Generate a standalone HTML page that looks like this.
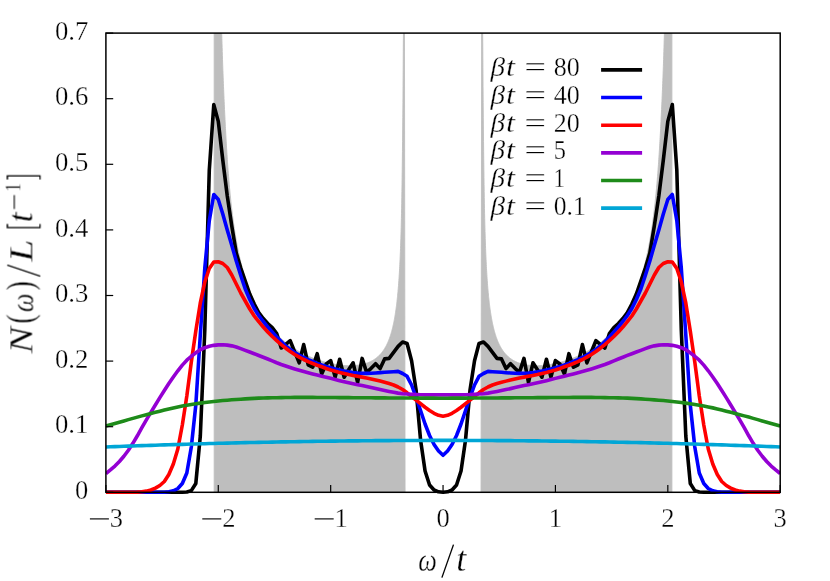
<!DOCTYPE html>
<html><head><meta charset="utf-8"><title>chart</title>
<style>
html,body{margin:0;padding:0;background:#fff;}
body{width:830px;height:581px;overflow:hidden;font-family:"Liberation Serif",serif;}
svg{display:block;}
</style></head><body>
<svg width="830" height="581" viewBox="0 0 830 581">
<rect x="0" y="0" width="830" height="581" fill="#ffffff"/>
<clipPath id="cp"><rect x="105.90" y="33.10" width="674.30" height="461.20"/></clipPath>
<g clip-path="url(#cp)">
<polygon points="405.06,492.30 404.46,33.10 404.34,33.10 404.21,33.10 404.08,33.10 403.96,33.10 403.83,33.10 403.70,33.10 403.57,33.10 403.45,33.10 403.32,45.99 403.19,67.83 403.06,86.56 402.94,102.86 402.81,117.21 402.68,129.95 402.56,141.37 402.45,151.67 402.34,161.03 402.23,169.57 402.13,177.41 402.03,184.64 401.92,191.32 401.82,197.53 401.72,203.31 401.61,208.72 401.51,213.78 401.40,218.54 401.30,223.01 401.19,227.24 401.08,231.23 400.97,235.01 400.86,238.60 400.75,242.01 400.63,245.26 400.52,248.35 400.41,251.31 400.29,254.13 400.18,256.83 400.06,259.41 399.94,261.89 399.82,264.27 399.71,266.55 399.59,268.75 399.47,270.87 399.35,272.90 399.23,274.87 399.11,276.76 398.99,278.59 398.87,280.36 398.75,282.06 398.62,283.72 398.50,285.31 398.38,286.86 398.26,288.36 398.13,289.82 398.01,291.23 397.89,292.60 397.76,293.93 397.64,295.22 397.51,296.48 397.39,297.70 397.27,298.89 397.14,300.05 397.02,301.17 396.89,302.27 396.77,303.33 396.64,304.38 396.52,305.39 396.39,306.38 396.26,307.35 396.14,308.29 396.01,309.21 395.89,310.11 395.76,310.98 395.64,311.84 395.51,312.68 395.38,313.50 395.26,314.30 395.13,315.08 395.00,315.85 394.88,316.60 394.75,317.34 394.62,318.05 394.50,318.76 394.37,319.45 394.24,320.12 394.12,320.79 393.99,321.43 393.86,322.07 393.74,322.69 393.61,323.30 393.48,323.90 393.36,324.49 393.23,325.07 393.10,325.64 392.97,326.19 392.85,326.74 392.72,327.27 392.59,327.80 392.47,328.32 392.34,328.83 392.21,329.32 392.08,329.81 391.96,330.30 391.83,330.77 391.70,331.24 391.58,331.69 391.45,332.14 391.32,332.58 391.19,333.02 391.07,333.45 390.94,333.87 390.81,334.28 390.68,334.69 390.56,335.09 390.43,335.49 390.30,335.87 390.18,336.26 390.05,336.63 389.92,337.00 389.79,337.37 389.67,337.73 389.54,338.08 389.41,338.43 389.28,338.77 389.16,339.11 389.03,339.45 388.90,339.77 388.78,340.10 388.65,340.42 388.52,340.73 388.39,341.04 388.27,341.35 388.14,341.65 388.01,341.95 387.88,342.24 387.76,342.53 387.63,342.81 387.50,343.09 387.38,343.37 387.25,343.64 387.12,343.91 386.99,344.18 386.87,344.44 386.74,344.70 386.61,344.95 386.49,345.21 386.36,345.46 386.23,345.70 386.10,345.94 385.98,346.18 385.85,346.42 385.72,346.65 385.59,346.88 385.47,347.11 385.34,347.33 385.21,347.55 385.09,347.77 384.96,347.99 384.83,348.20 384.70,348.41 384.58,348.62 384.45,348.82 384.32,349.03 384.19,349.23 384.07,349.42 383.94,349.62 383.81,349.81 383.69,350.00 383.56,350.19 383.43,350.38 383.30,350.56 383.18,350.74 383.05,350.92 382.92,351.10 382.79,351.27 382.67,351.45 382.54,351.62 382.41,351.79 382.29,351.96 382.16,352.12 382.03,352.28 381.90,352.45 381.78,352.61 381.65,352.76 381.52,352.92 381.39,353.07 381.27,353.23 381.14,353.38 381.01,353.53 380.89,353.67 380.76,353.82 380.63,353.96 380.50,354.10 380.38,354.25 380.25,354.39 380.12,354.52 380.00,354.66 379.87,354.79 379.74,354.93 379.61,355.06 379.49,355.19 379.36,355.32 379.23,355.44 379.10,355.57 378.98,355.70 378.85,355.82 378.72,355.94 378.60,356.06 378.47,356.18 378.34,356.30 378.21,356.42 378.09,356.53 377.96,356.65 377.83,356.76 377.70,356.87 377.58,356.98 377.45,357.09 377.32,357.20 377.20,357.31 377.07,357.41 376.94,357.52 376.81,357.62 376.69,357.72 376.56,357.82 376.43,357.92 376.30,358.02 376.18,358.12 376.05,358.22 375.92,358.32 375.80,358.41 375.67,358.51 375.54,358.60 375.41,358.69 375.29,358.78 375.16,358.87 375.03,358.96 374.90,359.05 374.78,359.14 374.65,359.22 374.52,359.31 374.40,359.39 374.27,359.48 374.14,359.56 374.01,359.64 373.89,359.72 373.76,359.81 373.63,359.88 373.51,359.96 373.38,360.04 373.25,360.12 373.12,360.19 373.00,360.27 372.87,360.35 372.74,360.42 372.61,360.49 372.49,360.56 372.36,360.64 372.23,360.71 372.11,360.78 371.98,360.85 371.85,360.92 371.72,360.98 371.60,361.05 371.47,361.12 371.34,361.18 371.21,361.25 371.09,361.31 370.96,361.38 370.83,361.44 370.71,361.50 370.58,361.56 370.45,361.62 370.32,361.68 370.20,361.74 370.07,361.80 369.94,361.86 369.81,361.92 369.69,361.98 369.56,362.03 369.43,362.09 369.31,362.14 369.18,362.20 369.05,362.25 368.92,362.31 368.80,362.36 368.67,362.41 368.54,362.46 368.41,362.52 368.29,362.57 368.16,362.62 368.03,362.67 367.91,362.72 367.78,362.76 367.65,362.81 367.52,362.86 367.40,362.91 367.27,362.95 367.14,363.00 367.02,363.04 366.89,363.09 366.76,363.13 366.63,363.18 366.51,363.22 366.38,363.26 366.25,363.31 366.12,363.35 366.00,363.39 365.87,363.43 365.74,363.47 365.62,363.51 365.49,363.55 365.36,363.59 365.23,363.63 365.11,363.67 364.98,363.70 364.85,363.74 364.72,363.78 364.60,363.81 364.47,363.85 364.34,363.88 364.22,363.92 364.09,363.95 363.96,363.99 363.83,364.02 363.71,364.06 363.58,364.09 363.45,364.12 363.32,364.15 363.20,364.18 363.07,364.22 362.94,364.25 362.82,364.28 362.69,364.31 362.56,364.34 362.43,364.37 362.31,364.39 362.18,364.42 362.05,364.45 361.92,364.48 361.80,364.51 361.67,364.53 361.54,364.56 361.42,364.59 361.29,364.61 361.16,364.64 361.03,364.66 360.91,364.69 360.78,364.71 360.65,364.73 360.53,364.76 360.40,364.78 360.27,364.80 360.14,364.83 360.02,364.85 359.89,364.87 359.76,364.89 359.63,364.91 359.51,364.94 359.38,364.96 359.25,364.98 359.13,365.00 359.00,365.02 358.87,365.03 358.74,365.05 358.62,365.07 358.49,365.09 358.36,365.11 358.23,365.13 358.11,365.14 357.98,365.16 357.85,365.18 357.73,365.19 357.60,365.21 357.47,365.23 357.34,365.24 357.22,365.26 357.09,365.27 356.96,365.29 356.83,365.30 356.71,365.31 356.58,365.33 356.45,365.34 356.33,365.35 356.20,365.37 356.07,365.38 355.94,365.39 355.82,365.40 355.69,365.42 355.56,365.43 355.43,365.44 355.31,365.45 355.18,365.46 355.05,365.47 354.93,365.48 354.80,365.49 354.67,365.50 354.54,365.51 354.42,365.52 354.29,365.53 354.16,365.53 354.04,365.54 353.91,365.55 353.78,365.56 353.65,365.57 353.53,365.57 353.40,365.58 353.27,365.59 353.14,365.59 353.02,365.60 352.89,365.60 352.76,365.61 352.64,365.62 352.51,365.62 352.38,365.63 352.25,365.63 352.13,365.63 352.00,365.64 351.87,365.64 351.74,365.65 351.62,365.65 351.49,365.65 351.36,365.66 351.24,365.66 351.11,365.66 350.98,365.66 350.85,365.67 350.73,365.67 350.60,365.67 350.47,365.67 350.34,365.67 350.22,365.67 350.09,365.67 349.96,365.67 349.84,365.67 349.71,365.67 349.58,365.67 349.45,365.67 349.33,365.67 349.20,365.67 349.07,365.67 348.94,365.67 348.82,365.67 348.69,365.66 348.56,365.66 348.44,365.66 348.31,365.66 348.18,365.66 348.05,365.65 347.93,365.65 347.80,365.65 347.67,365.64 347.54,365.64 347.42,365.63 347.29,365.63 347.16,365.63 347.04,365.62 346.91,365.62 346.78,365.61 346.65,365.61 346.53,365.60 346.40,365.60 346.27,365.59 346.15,365.58 346.02,365.58 345.89,365.57 345.76,365.56 345.64,365.56 345.51,365.55 345.38,365.54 345.25,365.54 345.13,365.53 345.00,365.52 344.87,365.51 344.75,365.50 344.62,365.50 344.49,365.49 344.36,365.48 344.24,365.47 344.11,365.46 343.98,365.45 343.85,365.44 343.73,365.43 343.60,365.42 343.47,365.41 343.35,365.40 343.22,365.39 343.09,365.38 342.96,365.37 342.84,365.36 342.71,365.35 342.58,365.33 342.45,365.32 342.33,365.31 342.20,365.30 342.07,365.29 341.95,365.27 341.82,365.26 341.69,365.25 341.56,365.24 341.44,365.22 341.31,365.21 341.18,365.20 341.05,365.18 340.93,365.17 340.80,365.15 340.67,365.14 340.55,365.13 340.42,365.11 340.29,365.10 340.16,365.08 340.04,365.07 339.91,365.05 339.78,365.04 339.66,365.02 339.53,365.00 339.40,364.99 339.27,364.97 339.15,364.96 339.02,364.94 338.89,364.92 338.76,364.91 338.64,364.89 338.51,364.87 338.38,364.85 338.26,364.84 338.13,364.82 338.00,364.80 337.87,364.78 337.75,364.76 337.62,364.75 337.49,364.73 337.36,364.71 337.24,364.69 337.11,364.67 336.98,364.65 336.86,364.63 336.73,364.61 336.60,364.59 336.47,364.57 336.35,364.55 336.22,364.53 336.09,364.51 335.96,364.49 335.84,364.47 335.71,364.45 335.58,364.43 335.46,364.41 335.33,364.39 335.20,364.36 335.07,364.34 334.95,364.32 334.82,364.30 334.69,364.28 334.56,364.25 334.44,364.23 334.31,364.21 334.18,364.18 334.06,364.16 333.93,364.14 333.80,364.12 333.67,364.09 333.55,364.07 333.42,364.04 333.29,364.02 333.17,364.00 333.04,363.97 332.91,363.95 332.78,363.92 332.66,363.90 332.53,363.87 332.40,363.85 332.27,363.82 332.15,363.80 332.02,363.77 331.89,363.74 331.77,363.72 331.64,363.69 331.51,363.67 331.38,363.64 331.26,363.61 331.13,363.59 331.00,363.56 330.87,363.53 330.75,363.50 330.62,363.48 330.49,363.45 330.37,363.42 330.24,363.39 330.11,363.36 329.98,363.34 329.86,363.31 329.73,363.28 329.60,363.25 329.47,363.22 329.35,363.19 329.22,363.16 329.09,363.13 328.97,363.10 328.84,363.07 328.71,363.04 328.58,363.01 328.46,362.98 328.33,362.95 328.20,362.92 328.07,362.89 327.95,362.86 327.82,362.83 327.69,362.80 327.57,362.77 327.44,362.74 327.31,362.70 327.18,362.67 327.06,362.64 326.93,362.61 326.80,362.58 326.68,362.54 326.55,362.51 326.42,362.48 326.29,362.45 326.17,362.41 326.04,362.38 325.91,362.35 325.78,362.31 325.66,362.28 325.53,362.24 325.40,362.21 325.28,362.18 325.15,362.14 325.02,362.11 324.89,362.07 324.77,362.04 324.64,362.00 324.51,361.97 324.38,361.93 324.26,361.90 324.13,361.86 324.00,361.82 323.88,361.79 323.75,361.75 323.62,361.72 323.49,361.68 323.37,361.64 323.24,361.61 323.11,361.57 322.98,361.53 322.86,361.49 322.73,361.46 322.60,361.42 322.48,361.38 322.35,361.34 322.22,361.31 322.09,361.27 321.97,361.23 321.84,361.19 321.71,361.15 321.58,361.11 321.46,361.07 321.33,361.03 321.20,361.00 321.08,360.96 320.95,360.92 320.82,360.88 320.69,360.84 320.57,360.80 320.44,360.76 320.31,360.71 320.19,360.67 320.06,360.63 319.93,360.59 319.80,360.55 319.68,360.51 319.55,360.47 319.42,360.43 319.29,360.38 319.17,360.34 319.04,360.30 318.91,360.26 318.79,360.22 318.66,360.17 318.53,360.13 318.40,360.09 318.28,360.04 318.15,360.00 318.02,359.96 317.89,359.91 317.77,359.87 317.64,359.83 317.51,359.78 317.39,359.74 317.26,359.69 317.13,359.65 317.00,359.60 316.88,359.56 316.75,359.51 316.62,359.47 316.49,359.42 316.37,359.38 316.24,359.33 316.11,359.28 315.99,359.24 315.86,359.19 315.73,359.14 315.60,359.10 315.48,359.05 315.35,359.00 315.22,358.96 315.09,358.91 314.97,358.86 314.84,358.81 314.71,358.77 314.59,358.72 314.46,358.67 314.33,358.62 314.20,358.57 314.08,358.52 313.95,358.47 313.82,358.43 313.70,358.38 313.57,358.33 313.44,358.28 313.31,358.23 313.19,358.18 313.06,358.13 312.93,358.08 312.80,358.03 312.68,357.98 312.55,357.92 312.42,357.87 312.30,357.82 312.17,357.77 312.04,357.72 311.91,357.67 311.79,357.62 311.66,357.56 311.53,357.51 311.40,357.46 311.28,357.41 311.15,357.35 311.02,357.30 310.90,357.25 310.77,357.19 310.64,357.14 310.51,357.09 310.39,357.03 310.26,356.98 310.13,356.92 310.00,356.87 309.88,356.81 309.75,356.76 309.62,356.70 309.50,356.65 309.37,356.59 309.24,356.54 309.11,356.48 308.99,356.43 308.86,356.37 308.73,356.31 308.60,356.26 308.48,356.20 308.35,356.14 308.22,356.09 308.10,356.03 307.97,355.97 307.84,355.91 307.71,355.86 307.59,355.80 307.46,355.74 307.33,355.68 307.21,355.62 307.08,355.56 306.95,355.50 306.82,355.44 306.70,355.39 306.57,355.33 306.44,355.27 306.31,355.21 306.19,355.15 306.06,355.08 305.93,355.02 305.81,354.96 305.68,354.90 305.55,354.84 305.42,354.78 305.30,354.72 305.17,354.66 305.04,354.59 304.91,354.53 304.79,354.47 304.66,354.41 304.53,354.34 304.41,354.28 304.28,354.22 304.15,354.15 304.02,354.09 303.90,354.03 303.77,353.96 303.64,353.90 303.51,353.83 303.39,353.77 303.26,353.70 303.13,353.64 303.01,353.57 302.88,353.51 302.75,353.44 302.62,353.38 302.50,353.31 302.37,353.24 302.24,353.18 302.11,353.11 301.99,353.04 301.86,352.98 301.73,352.91 301.61,352.84 301.48,352.77 301.35,352.70 301.22,352.64 301.10,352.57 300.97,352.50 300.84,352.43 300.72,352.36 300.59,352.29 300.46,352.22 300.33,352.15 300.21,352.08 300.08,352.01 299.95,351.94 299.82,351.87 299.70,351.80 299.57,351.73 299.44,351.66 299.32,351.59 299.19,351.51 299.06,351.44 298.93,351.37 298.81,351.30 298.68,351.22 298.55,351.15 298.42,351.08 298.30,351.00 298.17,350.93 298.04,350.86 297.92,350.78 297.79,350.71 297.66,350.63 297.53,350.56 297.41,350.48 297.28,350.41 297.15,350.33 297.02,350.26 296.90,350.18 296.77,350.10 296.64,350.03 296.52,349.95 296.39,349.87 296.26,349.79 296.13,349.72 296.01,349.64 295.88,349.56 295.75,349.48 295.62,349.40 295.50,349.33 295.37,349.25 295.24,349.17 295.12,349.09 294.99,349.01 294.86,348.93 294.73,348.85 294.61,348.77 294.48,348.69 294.35,348.60 294.22,348.52 294.10,348.44 293.97,348.36 293.84,348.28 293.72,348.20 293.59,348.11 293.46,348.03 293.33,347.95 293.21,347.86 293.08,347.78 292.95,347.70 292.83,347.61 292.70,347.53 292.57,347.44 292.44,347.36 292.32,347.27 292.19,347.19 292.06,347.10 291.93,347.01 291.81,346.93 291.68,346.84 291.55,346.75 291.43,346.67 291.30,346.58 291.17,346.49 291.04,346.40 290.92,346.31 290.79,346.23 290.66,346.14 290.53,346.05 290.41,345.96 290.28,345.87 290.15,345.78 290.03,345.69 289.90,345.60 289.77,345.51 289.64,345.41 289.52,345.32 289.39,345.23 289.26,345.14 289.13,345.05 289.01,344.95 288.88,344.86 288.75,344.77 288.63,344.67 288.50,344.58 288.37,344.49 288.24,344.39 288.12,344.30 287.99,344.20 287.86,344.10 287.73,344.01 287.61,343.91 287.48,343.82 287.35,343.72 287.23,343.62 287.10,343.53 286.97,343.43 286.84,343.33 286.72,343.23 286.59,343.13 286.46,343.03 286.34,342.93 286.21,342.83 286.08,342.73 285.95,342.63 285.83,342.53 285.70,342.43 285.57,342.33 285.44,342.23 285.32,342.13 285.19,342.03 285.06,341.92 284.94,341.82 284.81,341.72 284.68,341.61 284.55,341.51 284.43,341.40 284.30,341.30 284.17,341.19 284.04,341.09 283.92,340.98 283.79,340.88 283.66,340.77 283.54,340.66 283.41,340.56 283.28,340.45 283.15,340.34 283.03,340.23 282.90,340.12 282.77,340.02 282.64,339.91 282.52,339.80 282.39,339.69 282.26,339.58 282.14,339.46 282.01,339.35 281.88,339.24 281.75,339.13 281.63,339.02 281.50,338.90 281.37,338.79 281.24,338.68 281.12,338.56 280.99,338.45 280.86,338.34 280.74,338.22 280.61,338.10 280.48,337.99 280.35,337.87 280.23,337.76 280.10,337.64 279.97,337.52 279.85,337.40 279.72,337.29 279.59,337.17 279.46,337.05 279.34,336.93 279.21,336.81 279.08,336.69 278.95,336.57 278.83,336.45 278.70,336.32 278.57,336.20 278.45,336.08 278.32,335.96 278.19,335.83 278.06,335.71 277.94,335.59 277.81,335.46 277.68,335.34 277.55,335.21 277.43,335.09 277.30,334.96 277.17,334.83 277.05,334.71 276.92,334.58 276.79,334.45 276.66,334.32 276.54,334.19 276.41,334.06 276.28,333.93 276.15,333.80 276.03,333.67 275.90,333.54 275.77,333.41 275.65,333.28 275.52,333.14 275.39,333.01 275.26,332.88 275.14,332.74 275.01,332.61 274.88,332.47 274.75,332.34 274.63,332.20 274.50,332.06 274.37,331.93 274.25,331.79 274.12,331.65 273.99,331.51 273.86,331.37 273.74,331.23 273.61,331.09 273.48,330.95 273.36,330.81 273.23,330.67 273.10,330.53 272.97,330.38 272.85,330.24 272.72,330.10 272.59,329.95 272.46,329.81 272.34,329.66 272.21,329.52 272.08,329.37 271.96,329.22 271.83,329.08 271.70,328.93 271.57,328.78 271.45,328.63 271.32,328.48 271.19,328.33 271.06,328.18 270.94,328.03 270.81,327.87 270.68,327.72 270.56,327.57 270.43,327.41 270.30,327.26 270.17,327.10 270.05,326.95 269.92,326.79 269.79,326.64 269.66,326.48 269.54,326.32 269.41,326.16 269.28,326.00 269.16,325.84 269.03,325.68 268.90,325.52 268.77,325.36 268.65,325.20 268.52,325.03 268.39,324.87 268.26,324.70 268.14,324.54 268.01,324.37 267.88,324.21 267.76,324.04 267.63,323.87 267.50,323.70 267.37,323.54 267.25,323.37 267.12,323.20 266.99,323.02 266.87,322.85 266.74,322.68 266.61,322.51 266.48,322.33 266.36,322.16 266.23,321.98 266.10,321.81 265.97,321.63 265.85,321.45 265.72,321.28 265.59,321.10 265.47,320.92 265.34,320.74 265.21,320.56 265.08,320.37 264.96,320.19 264.83,320.01 264.70,319.82 264.57,319.64 264.45,319.45 264.32,319.27 264.19,319.08 264.07,318.89 263.94,318.70 263.81,318.51 263.68,318.32 263.56,318.13 263.43,317.94 263.30,317.75 263.17,317.55 263.05,317.36 262.92,317.17 262.79,316.97 262.67,316.77 262.54,316.57 262.41,316.38 262.28,316.18 262.16,315.98 262.03,315.77 261.90,315.57 261.77,315.37 261.65,315.17 261.52,314.96 261.39,314.76 261.27,314.55 261.14,314.34 261.01,314.13 260.88,313.92 260.76,313.71 260.63,313.50 260.50,313.29 260.38,313.08 260.25,312.86 260.12,312.65 259.99,312.43 259.87,312.22 259.74,312.00 259.61,311.78 259.48,311.56 259.36,311.34 259.23,311.12 259.10,310.89 258.98,310.67 258.85,310.44 258.72,310.22 258.59,309.99 258.47,309.76 258.34,309.53 258.21,309.30 258.08,309.07 257.96,308.84 257.83,308.61 257.70,308.37 257.58,308.14 257.45,307.90 257.32,307.66 257.19,307.42 257.07,307.18 256.94,306.94 256.81,306.70 256.68,306.46 256.56,306.21 256.43,305.96 256.30,305.72 256.18,305.47 256.05,305.22 255.92,304.97 255.79,304.72 255.67,304.46 255.54,304.21 255.41,303.95 255.28,303.70 255.16,303.44 255.03,303.18 254.90,302.92 254.78,302.66 254.65,302.39 254.52,302.13 254.39,301.86 254.27,301.59 254.14,301.32 254.01,301.05 253.89,300.78 253.76,300.51 253.63,300.23 253.50,299.96 253.38,299.68 253.25,299.40 253.12,299.12 252.99,298.84 252.87,298.56 252.74,298.27 252.61,297.99 252.49,297.70 252.36,297.41 252.23,297.12 252.10,296.83 251.98,296.53 251.85,296.24 251.72,295.94 251.59,295.64 251.47,295.34 251.34,295.04 251.21,294.74 251.09,294.43 250.96,294.13 250.83,293.82 250.70,293.51 250.58,293.20 250.45,292.88 250.32,292.57 250.20,292.25 250.07,291.93 249.94,291.61 249.81,291.29 249.69,290.96 249.56,290.64 249.43,290.31 249.31,289.98 249.18,289.65 249.05,289.31 248.93,288.98 248.80,288.64 248.67,288.30 248.55,287.96 248.42,287.62 248.29,287.27 248.17,286.92 248.04,286.57 247.91,286.22 247.79,285.87 247.66,285.51 247.53,285.16 247.41,284.80 247.28,284.43 247.15,284.07 247.03,283.70 246.90,283.33 246.77,282.96 246.65,282.59 246.52,282.21 246.39,281.84 246.27,281.46 246.14,281.07 246.01,280.69 245.89,280.30 245.76,279.91 245.64,279.52 245.51,279.12 245.38,278.72 245.26,278.32 245.13,277.92 245.01,277.52 244.88,277.11 244.75,276.70 244.63,276.29 244.50,275.87 244.38,275.45 244.25,275.03 244.12,274.61 244.00,274.18 243.87,273.75 243.75,273.32 243.62,272.88 243.50,272.44 243.37,272.00 243.24,271.56 243.12,271.11 242.99,270.66 242.87,270.20 242.74,269.75 242.62,269.29 242.49,268.82 242.37,268.36 242.24,267.89 242.12,267.41 241.99,266.94 241.87,266.46 241.74,265.97 241.62,265.49 241.49,265.00 241.37,264.50 241.24,264.01 241.12,263.50 240.99,263.00 240.87,262.49 240.74,261.98 240.62,261.46 240.49,260.94 240.37,260.42 240.25,259.89 240.12,259.36 240.00,258.82 239.87,258.28 239.75,257.74 239.62,257.19 239.50,256.63 239.38,256.08 239.25,255.52 239.13,254.95 239.00,254.38 238.88,253.80 238.76,253.22 238.63,252.64 238.51,252.05 238.39,251.46 238.26,250.86 238.14,250.25 238.02,249.64 237.89,249.03 237.77,248.41 237.65,247.79 237.52,247.16 237.40,246.52 237.28,245.88 237.15,245.24 237.03,244.58 236.91,243.93 236.79,243.26 236.66,242.60 236.54,241.92 236.42,241.24 236.30,240.55 236.18,239.86 236.05,239.16 235.93,238.46 235.81,237.75 235.69,237.03 235.57,236.30 235.44,235.57 235.32,234.83 235.20,234.09 235.08,233.33 234.96,232.57 234.84,231.81 234.72,231.03 234.60,230.25 234.48,229.46 234.35,228.66 234.23,227.86 234.11,227.05 233.99,226.22 233.87,225.39 233.75,224.56 233.63,223.71 233.51,222.85 233.39,221.99 233.27,221.12 233.15,220.24 233.03,219.34 232.91,218.44 232.79,217.53 232.68,216.61 232.56,215.68 232.44,214.74 232.32,213.79 232.20,212.83 232.08,211.86 231.96,210.88 231.84,209.88 231.73,208.88 231.61,207.86 231.49,206.83 231.37,205.79 231.25,204.74 231.14,203.67 231.02,202.59 230.90,201.50 230.79,200.40 230.67,199.28 230.55,198.15 230.43,197.01 230.32,195.85 230.20,194.67 230.09,193.48 229.97,192.28 229.85,191.06 229.74,189.83 229.62,188.57 229.50,187.31 229.39,186.02 229.27,184.72 229.16,183.40 229.04,182.06 228.93,180.71 228.81,179.33 228.70,177.94 228.58,176.52 228.47,175.09 228.35,173.63 228.24,172.16 228.12,170.66 228.01,169.14 227.90,167.59 227.78,166.03 227.67,164.44 227.55,162.82 227.44,161.18 227.32,159.51 227.21,157.82 227.10,156.10 226.98,154.35 226.87,152.58 226.75,150.77 226.64,148.93 226.53,147.06 226.41,145.16 226.30,143.23 226.18,141.26 226.07,139.26 225.95,137.22 225.84,135.15 225.72,133.03 225.60,130.88 225.49,128.69 225.37,126.45 225.25,124.17 225.13,121.85 225.02,119.48 224.90,117.06 224.78,114.60 224.66,112.08 224.53,109.51 224.41,106.88 224.29,104.20 224.16,101.46 224.03,98.66 223.91,95.80 223.78,92.87 223.65,89.87 223.53,86.81 223.40,83.67 223.27,80.45 223.14,77.15 223.02,73.77 222.89,70.31 222.76,66.75 222.63,63.11 222.51,59.36 222.38,55.51 222.25,51.56 222.13,47.49 222.00,43.30 221.87,38.99 221.74,34.55 221.62,33.10 221.49,33.10 221.36,33.10 221.24,33.10 221.11,33.10 220.98,33.10 220.85,33.10 220.73,33.10 220.60,33.10 220.47,33.10 220.34,33.10 220.22,33.10 220.09,33.10 219.96,33.10 219.84,33.10 219.71,33.10 219.58,33.10 219.45,33.10 219.33,33.10 219.20,33.10 219.07,33.10 218.94,33.10 218.82,33.10 218.69,33.10 218.56,33.10 218.44,33.10 218.31,33.10 218.18,33.10 218.05,33.10 217.93,33.10 217.80,33.10 217.67,33.10 217.54,33.10 217.42,33.10 217.29,33.10 217.16,33.10 217.04,33.10 216.91,33.10 216.78,33.10 216.65,33.10 216.53,33.10 216.40,33.10 216.27,33.10 216.14,33.10 216.02,33.10 215.89,33.10 215.76,33.10 215.64,33.10 215.51,33.10 214.18,33.10 214.18,492.30" fill="#bebebe" stroke="#bebebe" stroke-width="0.9" stroke-linejoin="round"/>
<polygon points="481.04,492.30 481.64,33.10 481.76,33.10 481.89,33.10 482.02,33.10 482.14,33.10 482.27,33.10 482.40,33.10 482.53,33.10 482.65,33.10 482.78,45.99 482.91,67.83 483.04,86.56 483.16,102.86 483.29,117.21 483.42,129.95 483.54,141.37 483.65,151.67 483.76,161.03 483.87,169.57 483.97,177.41 484.07,184.64 484.18,191.32 484.28,197.53 484.38,203.31 484.49,208.72 484.59,213.78 484.70,218.54 484.80,223.01 484.91,227.24 485.02,231.23 485.13,235.01 485.24,238.60 485.35,242.01 485.47,245.26 485.58,248.35 485.69,251.31 485.81,254.13 485.92,256.83 486.04,259.41 486.16,261.89 486.28,264.27 486.39,266.55 486.51,268.75 486.63,270.87 486.75,272.90 486.87,274.87 486.99,276.76 487.11,278.59 487.23,280.36 487.35,282.06 487.48,283.72 487.60,285.31 487.72,286.86 487.84,288.36 487.97,289.82 488.09,291.23 488.21,292.60 488.34,293.93 488.46,295.22 488.59,296.48 488.71,297.70 488.83,298.89 488.96,300.05 489.08,301.17 489.21,302.27 489.33,303.33 489.46,304.38 489.58,305.39 489.71,306.38 489.84,307.35 489.96,308.29 490.09,309.21 490.21,310.11 490.34,310.98 490.46,311.84 490.59,312.68 490.72,313.50 490.84,314.30 490.97,315.08 491.10,315.85 491.22,316.60 491.35,317.34 491.48,318.05 491.60,318.76 491.73,319.45 491.86,320.12 491.98,320.79 492.11,321.43 492.24,322.07 492.36,322.69 492.49,323.30 492.62,323.90 492.74,324.49 492.87,325.07 493.00,325.64 493.13,326.19 493.25,326.74 493.38,327.27 493.51,327.80 493.63,328.32 493.76,328.83 493.89,329.32 494.02,329.81 494.14,330.30 494.27,330.77 494.40,331.24 494.52,331.69 494.65,332.14 494.78,332.58 494.91,333.02 495.03,333.45 495.16,333.87 495.29,334.28 495.42,334.69 495.54,335.09 495.67,335.49 495.80,335.87 495.92,336.26 496.05,336.63 496.18,337.00 496.31,337.37 496.43,337.73 496.56,338.08 496.69,338.43 496.82,338.77 496.94,339.11 497.07,339.45 497.20,339.77 497.32,340.10 497.45,340.42 497.58,340.73 497.71,341.04 497.83,341.35 497.96,341.65 498.09,341.95 498.22,342.24 498.34,342.53 498.47,342.81 498.60,343.09 498.72,343.37 498.85,343.64 498.98,343.91 499.11,344.18 499.23,344.44 499.36,344.70 499.49,344.95 499.61,345.21 499.74,345.46 499.87,345.70 500.00,345.94 500.12,346.18 500.25,346.42 500.38,346.65 500.51,346.88 500.63,347.11 500.76,347.33 500.89,347.55 501.01,347.77 501.14,347.99 501.27,348.20 501.40,348.41 501.52,348.62 501.65,348.82 501.78,349.03 501.91,349.23 502.03,349.42 502.16,349.62 502.29,349.81 502.41,350.00 502.54,350.19 502.67,350.38 502.80,350.56 502.92,350.74 503.05,350.92 503.18,351.10 503.31,351.27 503.43,351.45 503.56,351.62 503.69,351.79 503.81,351.96 503.94,352.12 504.07,352.28 504.20,352.45 504.32,352.61 504.45,352.76 504.58,352.92 504.71,353.07 504.83,353.23 504.96,353.38 505.09,353.53 505.21,353.67 505.34,353.82 505.47,353.96 505.60,354.10 505.72,354.25 505.85,354.39 505.98,354.52 506.10,354.66 506.23,354.79 506.36,354.93 506.49,355.06 506.61,355.19 506.74,355.32 506.87,355.44 507.00,355.57 507.12,355.70 507.25,355.82 507.38,355.94 507.50,356.06 507.63,356.18 507.76,356.30 507.89,356.42 508.01,356.53 508.14,356.65 508.27,356.76 508.40,356.87 508.52,356.98 508.65,357.09 508.78,357.20 508.90,357.31 509.03,357.41 509.16,357.52 509.29,357.62 509.41,357.72 509.54,357.82 509.67,357.92 509.80,358.02 509.92,358.12 510.05,358.22 510.18,358.32 510.30,358.41 510.43,358.51 510.56,358.60 510.69,358.69 510.81,358.78 510.94,358.87 511.07,358.96 511.20,359.05 511.32,359.14 511.45,359.22 511.58,359.31 511.70,359.39 511.83,359.48 511.96,359.56 512.09,359.64 512.21,359.72 512.34,359.81 512.47,359.88 512.59,359.96 512.72,360.04 512.85,360.12 512.98,360.19 513.10,360.27 513.23,360.35 513.36,360.42 513.49,360.49 513.61,360.56 513.74,360.64 513.87,360.71 513.99,360.78 514.12,360.85 514.25,360.92 514.38,360.98 514.50,361.05 514.63,361.12 514.76,361.18 514.89,361.25 515.01,361.31 515.14,361.38 515.27,361.44 515.39,361.50 515.52,361.56 515.65,361.62 515.78,361.68 515.90,361.74 516.03,361.80 516.16,361.86 516.29,361.92 516.41,361.98 516.54,362.03 516.67,362.09 516.79,362.14 516.92,362.20 517.05,362.25 517.18,362.31 517.30,362.36 517.43,362.41 517.56,362.46 517.69,362.52 517.81,362.57 517.94,362.62 518.07,362.67 518.19,362.72 518.32,362.76 518.45,362.81 518.58,362.86 518.70,362.91 518.83,362.95 518.96,363.00 519.08,363.04 519.21,363.09 519.34,363.13 519.47,363.18 519.59,363.22 519.72,363.26 519.85,363.31 519.98,363.35 520.10,363.39 520.23,363.43 520.36,363.47 520.48,363.51 520.61,363.55 520.74,363.59 520.87,363.63 520.99,363.67 521.12,363.70 521.25,363.74 521.38,363.78 521.50,363.81 521.63,363.85 521.76,363.88 521.88,363.92 522.01,363.95 522.14,363.99 522.27,364.02 522.39,364.06 522.52,364.09 522.65,364.12 522.78,364.15 522.90,364.18 523.03,364.22 523.16,364.25 523.28,364.28 523.41,364.31 523.54,364.34 523.67,364.37 523.79,364.39 523.92,364.42 524.05,364.45 524.18,364.48 524.30,364.51 524.43,364.53 524.56,364.56 524.68,364.59 524.81,364.61 524.94,364.64 525.07,364.66 525.19,364.69 525.32,364.71 525.45,364.73 525.57,364.76 525.70,364.78 525.83,364.80 525.96,364.83 526.08,364.85 526.21,364.87 526.34,364.89 526.47,364.91 526.59,364.94 526.72,364.96 526.85,364.98 526.97,365.00 527.10,365.02 527.23,365.03 527.36,365.05 527.48,365.07 527.61,365.09 527.74,365.11 527.87,365.13 527.99,365.14 528.12,365.16 528.25,365.18 528.37,365.19 528.50,365.21 528.63,365.23 528.76,365.24 528.88,365.26 529.01,365.27 529.14,365.29 529.27,365.30 529.39,365.31 529.52,365.33 529.65,365.34 529.77,365.35 529.90,365.37 530.03,365.38 530.16,365.39 530.28,365.40 530.41,365.42 530.54,365.43 530.67,365.44 530.79,365.45 530.92,365.46 531.05,365.47 531.17,365.48 531.30,365.49 531.43,365.50 531.56,365.51 531.68,365.52 531.81,365.53 531.94,365.53 532.06,365.54 532.19,365.55 532.32,365.56 532.45,365.57 532.57,365.57 532.70,365.58 532.83,365.59 532.96,365.59 533.08,365.60 533.21,365.60 533.34,365.61 533.46,365.62 533.59,365.62 533.72,365.63 533.85,365.63 533.97,365.63 534.10,365.64 534.23,365.64 534.36,365.65 534.48,365.65 534.61,365.65 534.74,365.66 534.86,365.66 534.99,365.66 535.12,365.66 535.25,365.67 535.37,365.67 535.50,365.67 535.63,365.67 535.76,365.67 535.88,365.67 536.01,365.67 536.14,365.67 536.26,365.67 536.39,365.67 536.52,365.67 536.65,365.67 536.77,365.67 536.90,365.67 537.03,365.67 537.16,365.67 537.28,365.67 537.41,365.66 537.54,365.66 537.66,365.66 537.79,365.66 537.92,365.66 538.05,365.65 538.17,365.65 538.30,365.65 538.43,365.64 538.56,365.64 538.68,365.63 538.81,365.63 538.94,365.63 539.06,365.62 539.19,365.62 539.32,365.61 539.45,365.61 539.57,365.60 539.70,365.60 539.83,365.59 539.95,365.58 540.08,365.58 540.21,365.57 540.34,365.56 540.46,365.56 540.59,365.55 540.72,365.54 540.85,365.54 540.97,365.53 541.10,365.52 541.23,365.51 541.35,365.50 541.48,365.50 541.61,365.49 541.74,365.48 541.86,365.47 541.99,365.46 542.12,365.45 542.25,365.44 542.37,365.43 542.50,365.42 542.63,365.41 542.75,365.40 542.88,365.39 543.01,365.38 543.14,365.37 543.26,365.36 543.39,365.35 543.52,365.33 543.65,365.32 543.77,365.31 543.90,365.30 544.03,365.29 544.15,365.27 544.28,365.26 544.41,365.25 544.54,365.24 544.66,365.22 544.79,365.21 544.92,365.20 545.05,365.18 545.17,365.17 545.30,365.15 545.43,365.14 545.55,365.13 545.68,365.11 545.81,365.10 545.94,365.08 546.06,365.07 546.19,365.05 546.32,365.04 546.44,365.02 546.57,365.00 546.70,364.99 546.83,364.97 546.95,364.96 547.08,364.94 547.21,364.92 547.34,364.91 547.46,364.89 547.59,364.87 547.72,364.85 547.84,364.84 547.97,364.82 548.10,364.80 548.23,364.78 548.35,364.76 548.48,364.75 548.61,364.73 548.74,364.71 548.86,364.69 548.99,364.67 549.12,364.65 549.24,364.63 549.37,364.61 549.50,364.59 549.63,364.57 549.75,364.55 549.88,364.53 550.01,364.51 550.14,364.49 550.26,364.47 550.39,364.45 550.52,364.43 550.64,364.41 550.77,364.39 550.90,364.36 551.03,364.34 551.15,364.32 551.28,364.30 551.41,364.28 551.54,364.25 551.66,364.23 551.79,364.21 551.92,364.18 552.04,364.16 552.17,364.14 552.30,364.12 552.43,364.09 552.55,364.07 552.68,364.04 552.81,364.02 552.93,364.00 553.06,363.97 553.19,363.95 553.32,363.92 553.44,363.90 553.57,363.87 553.70,363.85 553.83,363.82 553.95,363.80 554.08,363.77 554.21,363.74 554.33,363.72 554.46,363.69 554.59,363.67 554.72,363.64 554.84,363.61 554.97,363.59 555.10,363.56 555.23,363.53 555.35,363.50 555.48,363.48 555.61,363.45 555.73,363.42 555.86,363.39 555.99,363.36 556.12,363.34 556.24,363.31 556.37,363.28 556.50,363.25 556.63,363.22 556.75,363.19 556.88,363.16 557.01,363.13 557.13,363.10 557.26,363.07 557.39,363.04 557.52,363.01 557.64,362.98 557.77,362.95 557.90,362.92 558.03,362.89 558.15,362.86 558.28,362.83 558.41,362.80 558.53,362.77 558.66,362.74 558.79,362.70 558.92,362.67 559.04,362.64 559.17,362.61 559.30,362.58 559.42,362.54 559.55,362.51 559.68,362.48 559.81,362.45 559.93,362.41 560.06,362.38 560.19,362.35 560.32,362.31 560.44,362.28 560.57,362.24 560.70,362.21 560.82,362.18 560.95,362.14 561.08,362.11 561.21,362.07 561.33,362.04 561.46,362.00 561.59,361.97 561.72,361.93 561.84,361.90 561.97,361.86 562.10,361.82 562.22,361.79 562.35,361.75 562.48,361.72 562.61,361.68 562.73,361.64 562.86,361.61 562.99,361.57 563.12,361.53 563.24,361.49 563.37,361.46 563.50,361.42 563.62,361.38 563.75,361.34 563.88,361.31 564.01,361.27 564.13,361.23 564.26,361.19 564.39,361.15 564.52,361.11 564.64,361.07 564.77,361.03 564.90,361.00 565.02,360.96 565.15,360.92 565.28,360.88 565.41,360.84 565.53,360.80 565.66,360.76 565.79,360.71 565.91,360.67 566.04,360.63 566.17,360.59 566.30,360.55 566.42,360.51 566.55,360.47 566.68,360.43 566.81,360.38 566.93,360.34 567.06,360.30 567.19,360.26 567.31,360.22 567.44,360.17 567.57,360.13 567.70,360.09 567.82,360.04 567.95,360.00 568.08,359.96 568.21,359.91 568.33,359.87 568.46,359.83 568.59,359.78 568.71,359.74 568.84,359.69 568.97,359.65 569.10,359.60 569.22,359.56 569.35,359.51 569.48,359.47 569.61,359.42 569.73,359.38 569.86,359.33 569.99,359.28 570.11,359.24 570.24,359.19 570.37,359.14 570.50,359.10 570.62,359.05 570.75,359.00 570.88,358.96 571.01,358.91 571.13,358.86 571.26,358.81 571.39,358.77 571.51,358.72 571.64,358.67 571.77,358.62 571.90,358.57 572.02,358.52 572.15,358.47 572.28,358.43 572.40,358.38 572.53,358.33 572.66,358.28 572.79,358.23 572.91,358.18 573.04,358.13 573.17,358.08 573.30,358.03 573.42,357.98 573.55,357.92 573.68,357.87 573.80,357.82 573.93,357.77 574.06,357.72 574.19,357.67 574.31,357.62 574.44,357.56 574.57,357.51 574.70,357.46 574.82,357.41 574.95,357.35 575.08,357.30 575.20,357.25 575.33,357.19 575.46,357.14 575.59,357.09 575.71,357.03 575.84,356.98 575.97,356.92 576.10,356.87 576.22,356.81 576.35,356.76 576.48,356.70 576.60,356.65 576.73,356.59 576.86,356.54 576.99,356.48 577.11,356.43 577.24,356.37 577.37,356.31 577.50,356.26 577.62,356.20 577.75,356.14 577.88,356.09 578.00,356.03 578.13,355.97 578.26,355.91 578.39,355.86 578.51,355.80 578.64,355.74 578.77,355.68 578.89,355.62 579.02,355.56 579.15,355.50 579.28,355.44 579.40,355.39 579.53,355.33 579.66,355.27 579.79,355.21 579.91,355.15 580.04,355.08 580.17,355.02 580.29,354.96 580.42,354.90 580.55,354.84 580.68,354.78 580.80,354.72 580.93,354.66 581.06,354.59 581.19,354.53 581.31,354.47 581.44,354.41 581.57,354.34 581.69,354.28 581.82,354.22 581.95,354.15 582.08,354.09 582.20,354.03 582.33,353.96 582.46,353.90 582.59,353.83 582.71,353.77 582.84,353.70 582.97,353.64 583.09,353.57 583.22,353.51 583.35,353.44 583.48,353.38 583.60,353.31 583.73,353.24 583.86,353.18 583.99,353.11 584.11,353.04 584.24,352.98 584.37,352.91 584.49,352.84 584.62,352.77 584.75,352.70 584.88,352.64 585.00,352.57 585.13,352.50 585.26,352.43 585.38,352.36 585.51,352.29 585.64,352.22 585.77,352.15 585.89,352.08 586.02,352.01 586.15,351.94 586.28,351.87 586.40,351.80 586.53,351.73 586.66,351.66 586.78,351.59 586.91,351.51 587.04,351.44 587.17,351.37 587.29,351.30 587.42,351.22 587.55,351.15 587.68,351.08 587.80,351.00 587.93,350.93 588.06,350.86 588.18,350.78 588.31,350.71 588.44,350.63 588.57,350.56 588.69,350.48 588.82,350.41 588.95,350.33 589.08,350.26 589.20,350.18 589.33,350.10 589.46,350.03 589.58,349.95 589.71,349.87 589.84,349.79 589.97,349.72 590.09,349.64 590.22,349.56 590.35,349.48 590.48,349.40 590.60,349.33 590.73,349.25 590.86,349.17 590.98,349.09 591.11,349.01 591.24,348.93 591.37,348.85 591.49,348.77 591.62,348.69 591.75,348.60 591.88,348.52 592.00,348.44 592.13,348.36 592.26,348.28 592.38,348.20 592.51,348.11 592.64,348.03 592.77,347.95 592.89,347.86 593.02,347.78 593.15,347.70 593.27,347.61 593.40,347.53 593.53,347.44 593.66,347.36 593.78,347.27 593.91,347.19 594.04,347.10 594.17,347.01 594.29,346.93 594.42,346.84 594.55,346.75 594.67,346.67 594.80,346.58 594.93,346.49 595.06,346.40 595.18,346.31 595.31,346.23 595.44,346.14 595.57,346.05 595.69,345.96 595.82,345.87 595.95,345.78 596.07,345.69 596.20,345.60 596.33,345.51 596.46,345.41 596.58,345.32 596.71,345.23 596.84,345.14 596.97,345.05 597.09,344.95 597.22,344.86 597.35,344.77 597.47,344.67 597.60,344.58 597.73,344.49 597.86,344.39 597.98,344.30 598.11,344.20 598.24,344.10 598.37,344.01 598.49,343.91 598.62,343.82 598.75,343.72 598.87,343.62 599.00,343.53 599.13,343.43 599.26,343.33 599.38,343.23 599.51,343.13 599.64,343.03 599.76,342.93 599.89,342.83 600.02,342.73 600.15,342.63 600.27,342.53 600.40,342.43 600.53,342.33 600.66,342.23 600.78,342.13 600.91,342.03 601.04,341.92 601.16,341.82 601.29,341.72 601.42,341.61 601.55,341.51 601.67,341.40 601.80,341.30 601.93,341.19 602.06,341.09 602.18,340.98 602.31,340.88 602.44,340.77 602.56,340.66 602.69,340.56 602.82,340.45 602.95,340.34 603.07,340.23 603.20,340.12 603.33,340.02 603.46,339.91 603.58,339.80 603.71,339.69 603.84,339.58 603.96,339.46 604.09,339.35 604.22,339.24 604.35,339.13 604.47,339.02 604.60,338.90 604.73,338.79 604.86,338.68 604.98,338.56 605.11,338.45 605.24,338.34 605.36,338.22 605.49,338.10 605.62,337.99 605.75,337.87 605.87,337.76 606.00,337.64 606.13,337.52 606.25,337.40 606.38,337.29 606.51,337.17 606.64,337.05 606.76,336.93 606.89,336.81 607.02,336.69 607.15,336.57 607.27,336.45 607.40,336.32 607.53,336.20 607.65,336.08 607.78,335.96 607.91,335.83 608.04,335.71 608.16,335.59 608.29,335.46 608.42,335.34 608.55,335.21 608.67,335.09 608.80,334.96 608.93,334.83 609.05,334.71 609.18,334.58 609.31,334.45 609.44,334.32 609.56,334.19 609.69,334.06 609.82,333.93 609.95,333.80 610.07,333.67 610.20,333.54 610.33,333.41 610.45,333.28 610.58,333.14 610.71,333.01 610.84,332.88 610.96,332.74 611.09,332.61 611.22,332.47 611.35,332.34 611.47,332.20 611.60,332.06 611.73,331.93 611.85,331.79 611.98,331.65 612.11,331.51 612.24,331.37 612.36,331.23 612.49,331.09 612.62,330.95 612.74,330.81 612.87,330.67 613.00,330.53 613.13,330.38 613.25,330.24 613.38,330.10 613.51,329.95 613.64,329.81 613.76,329.66 613.89,329.52 614.02,329.37 614.14,329.22 614.27,329.08 614.40,328.93 614.53,328.78 614.65,328.63 614.78,328.48 614.91,328.33 615.04,328.18 615.16,328.03 615.29,327.87 615.42,327.72 615.54,327.57 615.67,327.41 615.80,327.26 615.93,327.10 616.05,326.95 616.18,326.79 616.31,326.64 616.44,326.48 616.56,326.32 616.69,326.16 616.82,326.00 616.94,325.84 617.07,325.68 617.20,325.52 617.33,325.36 617.45,325.20 617.58,325.03 617.71,324.87 617.84,324.70 617.96,324.54 618.09,324.37 618.22,324.21 618.34,324.04 618.47,323.87 618.60,323.70 618.73,323.54 618.85,323.37 618.98,323.20 619.11,323.02 619.23,322.85 619.36,322.68 619.49,322.51 619.62,322.33 619.74,322.16 619.87,321.98 620.00,321.81 620.13,321.63 620.25,321.45 620.38,321.28 620.51,321.10 620.63,320.92 620.76,320.74 620.89,320.56 621.02,320.37 621.14,320.19 621.27,320.01 621.40,319.82 621.53,319.64 621.65,319.45 621.78,319.27 621.91,319.08 622.03,318.89 622.16,318.70 622.29,318.51 622.42,318.32 622.54,318.13 622.67,317.94 622.80,317.75 622.93,317.55 623.05,317.36 623.18,317.17 623.31,316.97 623.43,316.77 623.56,316.57 623.69,316.38 623.82,316.18 623.94,315.98 624.07,315.77 624.20,315.57 624.33,315.37 624.45,315.17 624.58,314.96 624.71,314.76 624.83,314.55 624.96,314.34 625.09,314.13 625.22,313.92 625.34,313.71 625.47,313.50 625.60,313.29 625.72,313.08 625.85,312.86 625.98,312.65 626.11,312.43 626.23,312.22 626.36,312.00 626.49,311.78 626.62,311.56 626.74,311.34 626.87,311.12 627.00,310.89 627.12,310.67 627.25,310.44 627.38,310.22 627.51,309.99 627.63,309.76 627.76,309.53 627.89,309.30 628.02,309.07 628.14,308.84 628.27,308.61 628.40,308.37 628.52,308.14 628.65,307.90 628.78,307.66 628.91,307.42 629.03,307.18 629.16,306.94 629.29,306.70 629.42,306.46 629.54,306.21 629.67,305.96 629.80,305.72 629.92,305.47 630.05,305.22 630.18,304.97 630.31,304.72 630.43,304.46 630.56,304.21 630.69,303.95 630.82,303.70 630.94,303.44 631.07,303.18 631.20,302.92 631.32,302.66 631.45,302.39 631.58,302.13 631.71,301.86 631.83,301.59 631.96,301.32 632.09,301.05 632.21,300.78 632.34,300.51 632.47,300.23 632.60,299.96 632.72,299.68 632.85,299.40 632.98,299.12 633.11,298.84 633.23,298.56 633.36,298.27 633.49,297.99 633.61,297.70 633.74,297.41 633.87,297.12 634.00,296.83 634.12,296.53 634.25,296.24 634.38,295.94 634.51,295.64 634.63,295.34 634.76,295.04 634.89,294.74 635.01,294.43 635.14,294.13 635.27,293.82 635.40,293.51 635.52,293.20 635.65,292.88 635.78,292.57 635.90,292.25 636.03,291.93 636.16,291.61 636.29,291.29 636.41,290.96 636.54,290.64 636.67,290.31 636.79,289.98 636.92,289.65 637.05,289.31 637.17,288.98 637.30,288.64 637.43,288.30 637.55,287.96 637.68,287.62 637.81,287.27 637.93,286.92 638.06,286.57 638.19,286.22 638.31,285.87 638.44,285.51 638.57,285.16 638.69,284.80 638.82,284.43 638.95,284.07 639.07,283.70 639.20,283.33 639.33,282.96 639.45,282.59 639.58,282.21 639.71,281.84 639.83,281.46 639.96,281.07 640.09,280.69 640.21,280.30 640.34,279.91 640.46,279.52 640.59,279.12 640.72,278.72 640.84,278.32 640.97,277.92 641.09,277.52 641.22,277.11 641.35,276.70 641.47,276.29 641.60,275.87 641.72,275.45 641.85,275.03 641.98,274.61 642.10,274.18 642.23,273.75 642.35,273.32 642.48,272.88 642.60,272.44 642.73,272.00 642.86,271.56 642.98,271.11 643.11,270.66 643.23,270.20 643.36,269.75 643.48,269.29 643.61,268.82 643.73,268.36 643.86,267.89 643.98,267.41 644.11,266.94 644.23,266.46 644.36,265.97 644.48,265.49 644.61,265.00 644.73,264.50 644.86,264.01 644.98,263.50 645.11,263.00 645.23,262.49 645.36,261.98 645.48,261.46 645.61,260.94 645.73,260.42 645.85,259.89 645.98,259.36 646.10,258.82 646.23,258.28 646.35,257.74 646.48,257.19 646.60,256.63 646.72,256.08 646.85,255.52 646.97,254.95 647.10,254.38 647.22,253.80 647.34,253.22 647.47,252.64 647.59,252.05 647.71,251.46 647.84,250.86 647.96,250.25 648.08,249.64 648.21,249.03 648.33,248.41 648.45,247.79 648.58,247.16 648.70,246.52 648.82,245.88 648.95,245.24 649.07,244.58 649.19,243.93 649.31,243.26 649.44,242.60 649.56,241.92 649.68,241.24 649.80,240.55 649.92,239.86 650.05,239.16 650.17,238.46 650.29,237.75 650.41,237.03 650.53,236.30 650.66,235.57 650.78,234.83 650.90,234.09 651.02,233.33 651.14,232.57 651.26,231.81 651.38,231.03 651.50,230.25 651.62,229.46 651.75,228.66 651.87,227.86 651.99,227.05 652.11,226.22 652.23,225.39 652.35,224.56 652.47,223.71 652.59,222.85 652.71,221.99 652.83,221.12 652.95,220.24 653.07,219.34 653.19,218.44 653.31,217.53 653.42,216.61 653.54,215.68 653.66,214.74 653.78,213.79 653.90,212.83 654.02,211.86 654.14,210.88 654.26,209.88 654.37,208.88 654.49,207.86 654.61,206.83 654.73,205.79 654.85,204.74 654.96,203.67 655.08,202.59 655.20,201.50 655.31,200.40 655.43,199.28 655.55,198.15 655.67,197.01 655.78,195.85 655.90,194.67 656.01,193.48 656.13,192.28 656.25,191.06 656.36,189.83 656.48,188.57 656.60,187.31 656.71,186.02 656.83,184.72 656.94,183.40 657.06,182.06 657.17,180.71 657.29,179.33 657.40,177.94 657.52,176.52 657.63,175.09 657.75,173.63 657.86,172.16 657.98,170.66 658.09,169.14 658.20,167.59 658.32,166.03 658.43,164.44 658.55,162.82 658.66,161.18 658.78,159.51 658.89,157.82 659.00,156.10 659.12,154.35 659.23,152.58 659.35,150.77 659.46,148.93 659.57,147.06 659.69,145.16 659.80,143.23 659.92,141.26 660.03,139.26 660.15,137.22 660.26,135.15 660.38,133.03 660.50,130.88 660.61,128.69 660.73,126.45 660.85,124.17 660.97,121.85 661.08,119.48 661.20,117.06 661.32,114.60 661.44,112.08 661.57,109.51 661.69,106.88 661.81,104.20 661.94,101.46 662.07,98.66 662.19,95.80 662.32,92.87 662.45,89.87 662.57,86.81 662.70,83.67 662.83,80.45 662.96,77.15 663.08,73.77 663.21,70.31 663.34,66.75 663.47,63.11 663.59,59.36 663.72,55.51 663.85,51.56 663.97,47.49 664.10,43.30 664.23,38.99 664.36,34.55 664.48,33.10 664.61,33.10 664.74,33.10 664.86,33.10 664.99,33.10 665.12,33.10 665.25,33.10 665.37,33.10 665.50,33.10 665.63,33.10 665.76,33.10 665.88,33.10 666.01,33.10 666.14,33.10 666.26,33.10 666.39,33.10 666.52,33.10 666.65,33.10 666.77,33.10 666.90,33.10 667.03,33.10 667.16,33.10 667.28,33.10 667.41,33.10 667.54,33.10 667.66,33.10 667.79,33.10 667.92,33.10 668.05,33.10 668.17,33.10 668.30,33.10 668.43,33.10 668.56,33.10 668.68,33.10 668.81,33.10 668.94,33.10 669.06,33.10 669.19,33.10 669.32,33.10 669.45,33.10 669.57,33.10 669.70,33.10 669.83,33.10 669.96,33.10 670.08,33.10 670.21,33.10 670.34,33.10 670.46,33.10 670.59,33.10 671.92,33.10 671.92,492.30" fill="#bebebe" stroke="#bebebe" stroke-width="0.9" stroke-linejoin="round"/>
<path d="M105.90,492.20 L110.40,492.20 L114.89,492.20 L119.39,492.20 L123.88,492.20 L128.38,492.20 L132.87,492.20 L137.37,492.20 L141.86,492.20 L146.36,492.20 L150.85,492.20 L155.35,492.20 L159.84,492.20 L164.34,492.20 L168.83,492.20 L173.33,492.20 L177.83,492.20 L182.32,492.20 L186.82,492.00 L191.31,490.60 L195.81,483.50 L200.30,436.00 L204.80,330.00 L209.29,170.00 L213.79,104.60 L218.28,121.40 L222.78,160.00 L227.27,196.00 L231.77,226.00 L236.26,253.00 L240.76,268.00 L245.26,281.00 L249.75,294.00 L254.25,304.00 L258.74,312.50 L263.24,318.50 L267.73,323.50 L272.23,327.50 L276.72,333.50 L281.22,348.00 L285.71,344.30 L290.21,340.70 L294.70,351.80 L299.20,362.90 L303.69,344.60 L308.19,364.80 L312.69,367.20 L317.18,353.70 L321.68,374.00 L326.17,364.00 L330.67,360.60 L335.16,377.00 L339.66,359.30 L344.15,377.20 L348.65,369.80 L353.14,362.80 L357.64,382.50 L362.13,358.40 L366.63,372.40 L371.12,368.30 L375.62,363.70 L380.12,368.60 L384.61,358.90 L389.11,358.40 L393.60,352.40 L398.10,346.40 L402.59,342.00 L407.09,343.50 L411.58,360.80 L416.08,390.00 L420.57,440.00 L425.07,471.00 L429.56,485.00 L434.06,490.00 L438.55,491.80 L443.05,492.20 L447.55,491.80 L452.04,490.00 L456.54,485.00 L461.03,471.00 L465.53,440.00 L470.02,390.00 L474.52,360.80 L479.01,343.50 L483.51,342.00 L488.00,346.40 L492.50,352.40 L496.99,358.40 L501.49,358.90 L505.98,368.60 L510.48,363.70 L514.98,368.30 L519.47,372.40 L523.97,358.40 L528.46,382.50 L532.96,362.80 L537.45,369.80 L541.95,377.20 L546.44,359.30 L550.94,377.00 L555.43,360.60 L559.93,364.00 L564.42,374.00 L568.92,353.70 L573.41,367.20 L577.91,364.80 L582.41,344.60 L586.90,362.90 L591.40,351.80 L595.89,340.70 L600.39,344.30 L604.88,348.00 L609.38,333.50 L613.87,327.50 L618.37,323.50 L622.86,318.50 L627.36,312.50 L631.85,304.00 L636.35,294.00 L640.84,281.00 L645.34,268.00 L649.84,253.00 L654.33,226.00 L658.83,196.00 L663.32,160.00 L667.82,121.40 L672.31,104.60 L676.81,170.00 L681.30,330.00 L685.80,436.00 L690.29,483.50 L694.79,490.60 L699.28,492.00 L703.78,492.20 L708.27,492.20 L712.77,492.20 L717.27,492.20 L721.76,492.20 L726.26,492.20 L730.75,492.20 L735.25,492.20 L739.74,492.20 L744.24,492.20 L748.73,492.20 L753.23,492.20 L757.72,492.20 L762.22,492.20 L766.71,492.20 L771.21,492.20 L775.70,492.20 L780.20,492.20" fill="none" stroke="#000000" stroke-width="3.6" stroke-linejoin="round" stroke-linecap="butt"/>
<path d="M105.90,492.20 L110.40,492.20 L114.89,492.20 L119.39,492.20 L123.88,492.20 L128.38,492.20 L132.87,492.20 L137.37,492.20 L141.86,492.20 L146.36,492.20 L150.85,492.20 L155.35,492.20 L159.84,492.20 L164.34,492.20 L168.83,491.70 L173.33,490.80 L177.83,488.50 L182.32,483.50 L186.82,473.00 L191.31,447.00 L195.81,405.00 L200.30,335.00 L204.80,268.00 L209.29,220.60 L213.79,194.50 L218.28,199.50 L222.78,214.00 L227.27,230.00 L231.77,245.30 L236.26,261.00 L240.76,275.50 L245.26,289.00 L249.75,299.50 L254.25,308.50 L258.74,315.50 L263.24,321.50 L267.73,327.00 L272.23,332.00 L276.72,337.00 L281.22,341.50 L285.71,346.00 L290.21,349.50 L294.70,352.50 L299.20,355.15 L303.69,357.50 L308.19,359.59 L312.69,361.50 L317.18,363.33 L321.68,365.00 L326.17,366.48 L330.67,367.80 L335.16,368.96 L339.66,370.00 L344.15,370.97 L348.65,371.80 L353.14,372.51 L357.64,373.00 L362.13,373.27 L366.63,373.40 L371.12,373.26 L375.62,373.00 L380.12,372.67 L384.61,372.30 L389.11,371.99 L393.60,371.70 L398.10,371.40 L402.59,373.50 L407.09,376.30 L411.58,385.00 L416.08,397.50 L420.57,410.50 L425.07,424.00 L429.56,435.50 L434.06,444.50 L438.55,451.00 L443.05,455.30 L447.55,451.00 L452.04,444.50 L456.54,435.50 L461.03,424.00 L465.53,410.50 L470.02,397.50 L474.52,385.00 L479.01,376.30 L483.51,373.50 L488.00,371.40 L492.50,371.70 L496.99,371.99 L501.49,372.30 L505.98,372.67 L510.48,373.00 L514.98,373.26 L519.47,373.40 L523.97,373.27 L528.46,373.00 L532.96,372.51 L537.45,371.80 L541.95,370.97 L546.44,370.00 L550.94,368.96 L555.43,367.80 L559.93,366.48 L564.42,365.00 L568.92,363.33 L573.41,361.50 L577.91,359.59 L582.41,357.50 L586.90,355.15 L591.40,352.50 L595.89,349.50 L600.39,346.00 L604.88,341.50 L609.38,337.00 L613.87,332.00 L618.37,327.00 L622.86,321.50 L627.36,315.50 L631.85,308.50 L636.35,299.50 L640.84,289.00 L645.34,275.50 L649.84,261.00 L654.33,245.30 L658.83,230.00 L663.32,214.00 L667.82,199.50 L672.31,194.50 L676.81,220.60 L681.30,268.00 L685.80,335.00 L690.29,405.00 L694.79,447.00 L699.28,473.00 L703.78,483.50 L708.27,488.50 L712.77,490.80 L717.27,491.70 L721.76,492.20 L726.26,492.20 L730.75,492.20 L735.25,492.20 L739.74,492.20 L744.24,492.20 L748.73,492.20 L753.23,492.20 L757.72,492.20 L762.22,492.20 L766.71,492.20 L771.21,492.20 L775.70,492.20 L780.20,492.20" fill="none" stroke="#0000ff" stroke-width="3.6" stroke-linejoin="round" stroke-linecap="butt"/>
<path d="M105.90,492.20 L110.40,492.20 L114.89,492.20 L119.39,492.20 L123.88,492.20 L128.38,492.20 L132.87,492.20 L137.37,492.08 L141.86,491.80 L146.36,491.14 L150.85,490.00 L155.35,488.17 L159.84,485.50 L164.34,481.50 L168.83,474.50 L173.33,464.00 L177.83,449.00 L182.32,425.00 L186.82,396.00 L191.31,362.00 L195.81,331.00 L200.30,303.00 L204.80,282.00 L209.29,268.50 L213.79,262.00 L218.28,261.80 L222.78,263.50 L227.27,267.50 L231.77,275.00 L236.26,284.00 L240.76,293.00 L245.26,301.00 L249.75,309.00 L254.25,316.00 L258.74,321.70 L263.24,327.04 L267.73,332.00 L272.23,336.46 L276.72,340.60 L281.22,344.55 L285.71,348.20 L290.21,351.51 L294.70,354.50 L299.20,357.14 L303.69,359.50 L308.19,361.60 L312.69,363.50 L317.18,365.20 L321.68,366.80 L326.17,368.47 L330.67,370.00 L335.16,371.30 L339.66,372.49 L344.15,373.59 L348.65,374.60 L353.14,375.50 L357.64,376.31 L362.13,377.12 L366.63,378.00 L371.12,378.98 L375.62,380.02 L380.12,381.12 L384.61,382.30 L389.11,383.53 L393.60,385.00 L398.10,386.99 L402.59,389.50 L407.09,392.80 L411.58,396.50 L416.08,400.11 L420.57,403.70 L425.07,407.27 L429.56,410.50 L434.06,413.27 L438.55,415.30 L443.05,416.30 L447.55,415.30 L452.04,413.27 L456.54,410.50 L461.03,407.27 L465.53,403.70 L470.02,400.11 L474.52,396.50 L479.01,392.80 L483.51,389.50 L488.00,386.99 L492.50,385.00 L496.99,383.53 L501.49,382.30 L505.98,381.12 L510.48,380.02 L514.98,378.98 L519.47,378.00 L523.97,377.12 L528.46,376.31 L532.96,375.50 L537.45,374.60 L541.95,373.59 L546.44,372.49 L550.94,371.30 L555.43,370.00 L559.93,368.47 L564.42,366.80 L568.92,365.20 L573.41,363.50 L577.91,361.60 L582.41,359.50 L586.90,357.14 L591.40,354.50 L595.89,351.51 L600.39,348.20 L604.88,344.55 L609.38,340.60 L613.87,336.46 L618.37,332.00 L622.86,327.04 L627.36,321.70 L631.85,316.00 L636.35,309.00 L640.84,301.00 L645.34,293.00 L649.84,284.00 L654.33,275.00 L658.83,267.50 L663.32,263.50 L667.82,261.80 L672.31,262.00 L676.81,268.50 L681.30,282.00 L685.80,303.00 L690.29,331.00 L694.79,362.00 L699.28,396.00 L703.78,425.00 L708.27,449.00 L712.77,464.00 L717.27,474.50 L721.76,481.50 L726.26,485.50 L730.75,488.17 L735.25,490.00 L739.74,491.14 L744.24,491.80 L748.73,492.08 L753.23,492.20 L757.72,492.20 L762.22,492.20 L766.71,492.20 L771.21,492.20 L775.70,492.20 L780.20,492.20" fill="none" stroke="#ff0000" stroke-width="3.6" stroke-linejoin="round" stroke-linecap="butt"/>
<path d="M105.90,473.50 L110.40,469.86 L114.89,466.04 L119.39,461.52 L123.88,456.29 L128.38,450.25 L132.87,443.31 L137.37,435.76 L141.86,427.69 L146.36,419.95 L150.85,412.41 L155.35,404.97 L159.84,397.65 L164.34,390.49 L168.83,383.53 L173.33,376.97 L177.83,370.78 L182.32,365.15 L186.82,360.18 L191.31,356.24 L195.81,352.82 L200.30,349.76 L204.80,347.73 L209.29,346.30 L213.79,345.36 L218.28,344.87 L222.78,344.71 L227.27,345.13 L231.77,345.86 L236.26,347.00 L240.76,348.64 L245.26,350.36 L249.75,352.00 L254.25,353.70 L258.74,355.45 L263.24,357.23 L267.73,359.01 L272.23,360.89 L276.72,362.77 L281.22,364.51 L285.71,366.07 L290.21,367.55 L294.70,368.94 L299.20,370.27 L303.69,371.54 L308.19,372.74 L312.69,373.90 L317.18,375.02 L321.68,376.13 L326.17,377.24 L330.67,378.37 L335.16,379.52 L339.66,380.68 L344.15,381.80 L348.65,382.85 L353.14,383.81 L357.64,384.69 L362.13,385.58 L366.63,386.54 L371.12,387.57 L375.62,388.62 L380.12,389.61 L384.61,390.52 L389.11,391.44 L393.60,392.33 L398.10,393.12 L402.59,393.71 L407.09,394.07 L411.58,394.37 L416.08,394.62 L420.57,394.81 L425.07,394.89 L429.56,394.90 L434.06,394.90 L438.55,394.90 L443.05,394.90 L447.55,394.90 L452.04,394.90 L456.54,394.90 L461.03,394.89 L465.53,394.81 L470.02,394.62 L474.52,394.37 L479.01,394.07 L483.51,393.71 L488.00,393.12 L492.50,392.33 L496.99,391.44 L501.49,390.52 L505.98,389.61 L510.48,388.62 L514.98,387.57 L519.47,386.54 L523.97,385.58 L528.46,384.69 L532.96,383.81 L537.45,382.85 L541.95,381.80 L546.44,380.68 L550.94,379.52 L555.43,378.37 L559.93,377.24 L564.42,376.13 L568.92,375.02 L573.41,373.90 L577.91,372.74 L582.41,371.54 L586.90,370.27 L591.40,368.94 L595.89,367.55 L600.39,366.07 L604.88,364.51 L609.38,362.77 L613.87,360.89 L618.37,359.01 L622.86,357.23 L627.36,355.45 L631.85,353.70 L636.35,352.00 L640.84,350.36 L645.34,348.64 L649.84,347.00 L654.33,345.86 L658.83,345.13 L663.32,344.71 L667.82,344.87 L672.31,345.36 L676.81,346.30 L681.30,347.73 L685.80,349.76 L690.29,352.82 L694.79,356.24 L699.28,360.18 L703.78,365.15 L708.27,370.78 L712.77,376.97 L717.27,383.53 L721.76,390.49 L726.26,397.65 L730.75,404.97 L735.25,412.41 L739.74,419.95 L744.24,427.69 L748.73,435.76 L753.23,443.31 L757.72,450.25 L762.22,456.29 L766.71,461.52 L771.21,466.04 L775.70,469.86 L780.20,473.50" fill="none" stroke="#9400d3" stroke-width="3.6" stroke-linejoin="round" stroke-linecap="butt"/>
<path d="M105.90,426.00 L110.40,424.74 L114.89,423.47 L119.39,422.19 L123.88,420.91 L128.38,419.63 L132.87,418.37 L137.37,417.11 L141.86,415.88 L146.36,414.67 L150.85,413.49 L155.35,412.34 L159.84,411.18 L164.34,410.03 L168.83,408.92 L173.33,407.88 L177.83,406.92 L182.32,406.07 L186.82,405.26 L191.31,404.49 L195.81,403.77 L200.30,403.10 L204.80,402.50 L209.29,401.96 L213.79,401.46 L218.28,401.00 L222.78,400.58 L227.27,400.19 L231.77,399.83 L236.26,399.50 L240.76,399.21 L245.26,398.92 L249.75,398.64 L254.25,398.39 L258.74,398.17 L263.24,398.00 L267.73,397.88 L272.23,397.77 L276.72,397.68 L281.22,397.59 L285.71,397.51 L290.21,397.46 L294.70,397.42 L299.20,397.40 L303.69,397.40 L308.19,397.41 L312.69,397.42 L317.18,397.44 L321.68,397.46 L326.17,397.49 L330.67,397.52 L335.16,397.55 L339.66,397.58 L344.15,397.61 L348.65,397.65 L353.14,397.69 L357.64,397.72 L362.13,397.76 L366.63,397.79 L371.12,397.82 L375.62,397.86 L380.12,397.88 L384.61,397.91 L389.11,397.93 L393.60,397.96 L398.10,397.98 L402.59,398.00 L407.09,398.02 L411.58,398.05 L416.08,398.07 L420.57,398.09 L425.07,398.11 L429.56,398.13 L434.06,398.16 L438.55,398.18 L443.05,398.20 L447.55,398.18 L452.04,398.16 L456.54,398.13 L461.03,398.11 L465.53,398.09 L470.02,398.07 L474.52,398.05 L479.01,398.02 L483.51,398.00 L488.00,397.98 L492.50,397.96 L496.99,397.93 L501.49,397.91 L505.98,397.88 L510.48,397.86 L514.98,397.82 L519.47,397.79 L523.97,397.76 L528.46,397.72 L532.96,397.69 L537.45,397.65 L541.95,397.61 L546.44,397.58 L550.94,397.55 L555.43,397.52 L559.93,397.49 L564.42,397.46 L568.92,397.44 L573.41,397.42 L577.91,397.41 L582.41,397.40 L586.90,397.40 L591.40,397.42 L595.89,397.46 L600.39,397.51 L604.88,397.59 L609.38,397.68 L613.87,397.77 L618.37,397.88 L622.86,398.00 L627.36,398.17 L631.85,398.39 L636.35,398.64 L640.84,398.92 L645.34,399.21 L649.84,399.50 L654.33,399.83 L658.83,400.19 L663.32,400.58 L667.82,401.00 L672.31,401.46 L676.81,401.96 L681.30,402.50 L685.80,403.10 L690.29,403.77 L694.79,404.49 L699.28,405.26 L703.78,406.07 L708.27,406.92 L712.77,407.88 L717.27,408.92 L721.76,410.03 L726.26,411.18 L730.75,412.34 L735.25,413.49 L739.74,414.67 L744.24,415.88 L748.73,417.11 L753.23,418.37 L757.72,419.63 L762.22,420.91 L766.71,422.19 L771.21,423.47 L775.70,424.74 L780.20,426.00" fill="none" stroke="#1e8b1a" stroke-width="3.6" stroke-linejoin="round" stroke-linecap="butt"/>
<path d="M105.90,446.96 L110.40,446.79 L114.89,446.62 L119.39,446.45 L123.88,446.28 L128.38,446.12 L132.87,445.96 L137.37,445.80 L141.86,445.64 L146.36,445.49 L150.85,445.33 L155.35,445.18 L159.84,445.03 L164.34,444.89 L168.83,444.75 L173.33,444.60 L177.83,444.47 L182.32,444.33 L186.82,444.20 L191.31,444.06 L195.81,443.93 L200.30,443.81 L204.80,443.68 L209.29,443.56 L213.79,443.44 L218.28,443.32 L222.78,443.21 L227.27,443.09 L231.77,442.98 L236.26,442.88 L240.76,442.77 L245.26,442.67 L249.75,442.56 L254.25,442.47 L258.74,442.37 L263.24,442.27 L267.73,442.18 L272.23,442.09 L276.72,442.01 L281.22,441.92 L285.71,441.84 L290.21,441.76 L294.70,441.68 L299.20,441.60 L303.69,441.53 L308.19,441.46 L312.69,441.39 L317.18,441.32 L321.68,441.26 L326.17,441.20 L330.67,441.14 L335.16,441.08 L339.66,441.03 L344.15,440.97 L348.65,440.92 L353.14,440.88 L357.64,440.83 L362.13,440.79 L366.63,440.75 L371.12,440.71 L375.62,440.67 L380.12,440.64 L384.61,440.61 L389.11,440.58 L393.60,440.55 L398.10,440.53 L402.59,440.50 L407.09,440.48 L411.58,440.47 L416.08,440.45 L420.57,440.44 L425.07,440.43 L429.56,440.42 L434.06,440.42 L438.55,440.41 L443.05,440.41 L447.55,440.41 L452.04,440.42 L456.54,440.42 L461.03,440.43 L465.53,440.44 L470.02,440.45 L474.52,440.47 L479.01,440.48 L483.51,440.50 L488.00,440.53 L492.50,440.55 L496.99,440.58 L501.49,440.61 L505.98,440.64 L510.48,440.67 L514.98,440.71 L519.47,440.75 L523.97,440.79 L528.46,440.83 L532.96,440.88 L537.45,440.92 L541.95,440.97 L546.44,441.03 L550.94,441.08 L555.43,441.14 L559.93,441.20 L564.42,441.26 L568.92,441.32 L573.41,441.39 L577.91,441.46 L582.41,441.53 L586.90,441.60 L591.40,441.68 L595.89,441.76 L600.39,441.84 L604.88,441.92 L609.38,442.01 L613.87,442.09 L618.37,442.18 L622.86,442.27 L627.36,442.37 L631.85,442.47 L636.35,442.56 L640.84,442.67 L645.34,442.77 L649.84,442.88 L654.33,442.98 L658.83,443.09 L663.32,443.21 L667.82,443.32 L672.31,443.44 L676.81,443.56 L681.30,443.68 L685.80,443.81 L690.29,443.93 L694.79,444.06 L699.28,444.20 L703.78,444.33 L708.27,444.47 L712.77,444.60 L717.27,444.75 L721.76,444.89 L726.26,445.03 L730.75,445.18 L735.25,445.33 L739.74,445.49 L744.24,445.64 L748.73,445.80 L753.23,445.96 L757.72,446.12 L762.22,446.28 L766.71,446.45 L771.21,446.62 L775.70,446.79 L780.20,446.96" fill="none" stroke="#00a6d6" stroke-width="3.6" stroke-linejoin="round" stroke-linecap="butt"/>
</g>
<rect x="105.90" y="33.10" width="674.30" height="459.20" fill="none" stroke="#000" stroke-width="1.5"/>
<line x1="105.90" y1="492.30" x2="105.90" y2="485.00" stroke="#000" stroke-width="1.2"/>
<line x1="218.28" y1="492.30" x2="218.28" y2="485.00" stroke="#000" stroke-width="1.2"/>
<line x1="330.67" y1="492.30" x2="330.67" y2="485.00" stroke="#000" stroke-width="1.2"/>
<line x1="443.05" y1="492.30" x2="443.05" y2="485.00" stroke="#000" stroke-width="1.2"/>
<line x1="555.43" y1="492.30" x2="555.43" y2="485.00" stroke="#000" stroke-width="1.2"/>
<line x1="667.82" y1="492.30" x2="667.82" y2="485.00" stroke="#000" stroke-width="1.2"/>
<line x1="780.20" y1="492.30" x2="780.20" y2="485.00" stroke="#000" stroke-width="1.2"/>
<line x1="105.90" y1="492.30" x2="113.20" y2="492.30" stroke="#000" stroke-width="1.2"/>
<line x1="105.90" y1="426.70" x2="113.20" y2="426.70" stroke="#000" stroke-width="1.2"/>
<line x1="105.90" y1="361.10" x2="113.20" y2="361.10" stroke="#000" stroke-width="1.2"/>
<line x1="105.90" y1="295.50" x2="113.20" y2="295.50" stroke="#000" stroke-width="1.2"/>
<line x1="105.90" y1="229.90" x2="113.20" y2="229.90" stroke="#000" stroke-width="1.2"/>
<line x1="105.90" y1="164.30" x2="113.20" y2="164.30" stroke="#000" stroke-width="1.2"/>
<line x1="105.90" y1="98.70" x2="113.20" y2="98.70" stroke="#000" stroke-width="1.2"/>
<line x1="105.90" y1="33.10" x2="113.20" y2="33.10" stroke="#000" stroke-width="1.2"/>
<g font-family="'Liberation Serif', serif" fill="#000" opacity="0.999" stroke="#fff" stroke-width="0.3">
<line x1="89.90" y1="518.9" x2="108.90" y2="518.9" stroke="#000" stroke-width="1.15"/>
<text x="109.80" y="527.20" font-size="26.5" text-anchor="start" >3</text>
<line x1="202.28" y1="518.9" x2="221.28" y2="518.9" stroke="#000" stroke-width="1.15"/>
<text x="222.18" y="527.20" font-size="26.5" text-anchor="start" >2</text>
<line x1="314.67" y1="518.9" x2="333.67" y2="518.9" stroke="#000" stroke-width="1.15"/>
<text x="334.57" y="527.20" font-size="26.5" text-anchor="start" >1</text>
<text x="443.05" y="527.20" font-size="26.5" text-anchor="middle" >0</text>
<text x="555.43" y="527.20" font-size="26.5" text-anchor="middle" >1</text>
<text x="667.82" y="527.20" font-size="26.5" text-anchor="middle" >2</text>
<text x="780.20" y="527.20" font-size="26.5" text-anchor="middle" >3</text>
<text x="88.20" y="499.00" font-size="26.5" text-anchor="end" >0</text>
<text x="88.40" y="433.40" font-size="26.5" text-anchor="end" textLength="33.4" lengthAdjust="spacingAndGlyphs" >0.1</text>
<text x="88.40" y="367.80" font-size="26.5" text-anchor="end" textLength="33.4" lengthAdjust="spacingAndGlyphs" >0.2</text>
<text x="88.40" y="302.20" font-size="26.5" text-anchor="end" textLength="33.4" lengthAdjust="spacingAndGlyphs" >0.3</text>
<text x="88.40" y="236.60" font-size="26.5" text-anchor="end" textLength="33.4" lengthAdjust="spacingAndGlyphs" >0.4</text>
<text x="88.40" y="171.00" font-size="26.5" text-anchor="end" textLength="33.4" lengthAdjust="spacingAndGlyphs" >0.5</text>
<text x="88.40" y="105.40" font-size="26.5" text-anchor="end" textLength="33.4" lengthAdjust="spacingAndGlyphs" >0.6</text>
<text x="88.40" y="39.80" font-size="26.5" text-anchor="end" textLength="33.4" lengthAdjust="spacingAndGlyphs" >0.7</text>
<text x="490.6" y="76.40" font-size="26.5" font-style="italic" textLength="14.6" lengthAdjust="spacingAndGlyphs">β</text>
<text x="506" y="76.40" font-size="26.5" font-style="italic" textLength="9" lengthAdjust="spacingAndGlyphs">t</text>
<text x="524.2" y="76.40" font-size="26.5" textLength="21.8" lengthAdjust="spacingAndGlyphs">=</text>
<text x="553.7" y="76.40" font-size="26.5" textLength="26.0" lengthAdjust="spacingAndGlyphs">80</text>
<line x1="601.1" y1="69.90" x2="642.1" y2="69.90" stroke="#000000" stroke-width="3.6"/>
<text x="490.6" y="104.05" font-size="26.5" font-style="italic" textLength="14.6" lengthAdjust="spacingAndGlyphs">β</text>
<text x="506" y="104.05" font-size="26.5" font-style="italic" textLength="9" lengthAdjust="spacingAndGlyphs">t</text>
<text x="524.2" y="104.05" font-size="26.5" textLength="21.8" lengthAdjust="spacingAndGlyphs">=</text>
<text x="553.7" y="104.05" font-size="26.5" textLength="26.0" lengthAdjust="spacingAndGlyphs">40</text>
<line x1="601.1" y1="97.55" x2="642.1" y2="97.55" stroke="#0000ff" stroke-width="3.6"/>
<text x="490.6" y="131.70" font-size="26.5" font-style="italic" textLength="14.6" lengthAdjust="spacingAndGlyphs">β</text>
<text x="506" y="131.70" font-size="26.5" font-style="italic" textLength="9" lengthAdjust="spacingAndGlyphs">t</text>
<text x="524.2" y="131.70" font-size="26.5" textLength="21.8" lengthAdjust="spacingAndGlyphs">=</text>
<text x="553.7" y="131.70" font-size="26.5" textLength="26.0" lengthAdjust="spacingAndGlyphs">20</text>
<line x1="601.1" y1="125.20" x2="642.1" y2="125.20" stroke="#ff0000" stroke-width="3.6"/>
<text x="490.6" y="159.35" font-size="26.5" font-style="italic" textLength="14.6" lengthAdjust="spacingAndGlyphs">β</text>
<text x="506" y="159.35" font-size="26.5" font-style="italic" textLength="9" lengthAdjust="spacingAndGlyphs">t</text>
<text x="524.2" y="159.35" font-size="26.5" textLength="21.8" lengthAdjust="spacingAndGlyphs">=</text>
<text x="553.7" y="159.35" font-size="26.5" textLength="12.2" lengthAdjust="spacingAndGlyphs">5</text>
<line x1="601.1" y1="152.85" x2="642.1" y2="152.85" stroke="#9400d3" stroke-width="3.6"/>
<text x="490.6" y="187.00" font-size="26.5" font-style="italic" textLength="14.6" lengthAdjust="spacingAndGlyphs">β</text>
<text x="506" y="187.00" font-size="26.5" font-style="italic" textLength="9" lengthAdjust="spacingAndGlyphs">t</text>
<text x="524.2" y="187.00" font-size="26.5" textLength="21.8" lengthAdjust="spacingAndGlyphs">=</text>
<text x="553.7" y="187.00" font-size="26.5" textLength="11.0" lengthAdjust="spacingAndGlyphs">1</text>
<line x1="601.1" y1="180.50" x2="642.1" y2="180.50" stroke="#1e8b1a" stroke-width="3.6"/>
<text x="490.6" y="214.65" font-size="26.5" font-style="italic" textLength="14.6" lengthAdjust="spacingAndGlyphs">β</text>
<text x="506" y="214.65" font-size="26.5" font-style="italic" textLength="9" lengthAdjust="spacingAndGlyphs">t</text>
<text x="524.2" y="214.65" font-size="26.5" textLength="21.8" lengthAdjust="spacingAndGlyphs">=</text>
<text x="553.7" y="214.65" font-size="26.5" textLength="32.0" lengthAdjust="spacingAndGlyphs">0.1</text>
<line x1="601.1" y1="208.15" x2="642.1" y2="208.15" stroke="#00a6d6" stroke-width="3.6"/>
<text x="418.2" y="570.8" font-size="30.5" font-style="italic" textLength="18.6" lengthAdjust="spacingAndGlyphs">ω</text>
<line x1="441.9" y1="577.6" x2="453.5" y2="544.6" stroke="#000" stroke-width="1.35"/>
<text x="456.3" y="570.8" font-size="36" font-style="italic">t</text>
<g transform="translate(32.4,353.6) rotate(-90)"><text x="0" y="0" font-size="34" font-style="italic" textLength="26.9" lengthAdjust="spacingAndGlyphs">N</text><text x="30.0" y="0" font-size="37" textLength="9.2" lengthAdjust="spacingAndGlyphs">(</text><text x="41.6" y="0.5" font-size="30.5" font-style="italic" textLength="18.6" lengthAdjust="spacingAndGlyphs">ω</text><text x="63.2" y="0" font-size="37" textLength="9.2" lengthAdjust="spacingAndGlyphs">)</text><line x1="77.4" y1="7.9" x2="88.5" y2="-25.1" stroke="#000" stroke-width="1.35"/><text x="91.7" y="0" font-size="34" font-style="italic" textLength="22.4" lengthAdjust="spacingAndGlyphs">L</text><path d="M129.6,-25.0 H126 V7.6 H129.6" fill="none" stroke="#000" stroke-width="1.3"/><text x="131.2" y="0.2" font-size="36" font-style="italic">t</text><line x1="144.6" y1="-18.1" x2="158.5" y2="-18.1" stroke="#000" stroke-width="1.1"/><text x="162.2" y="-12" font-size="22.4" textLength="8" lengthAdjust="spacingAndGlyphs">1</text><path d="M174.1,-25.0 H177.7 V7.6 H174.1" fill="none" stroke="#000" stroke-width="1.3"/></g>
</g>
</svg>
</body></html>
